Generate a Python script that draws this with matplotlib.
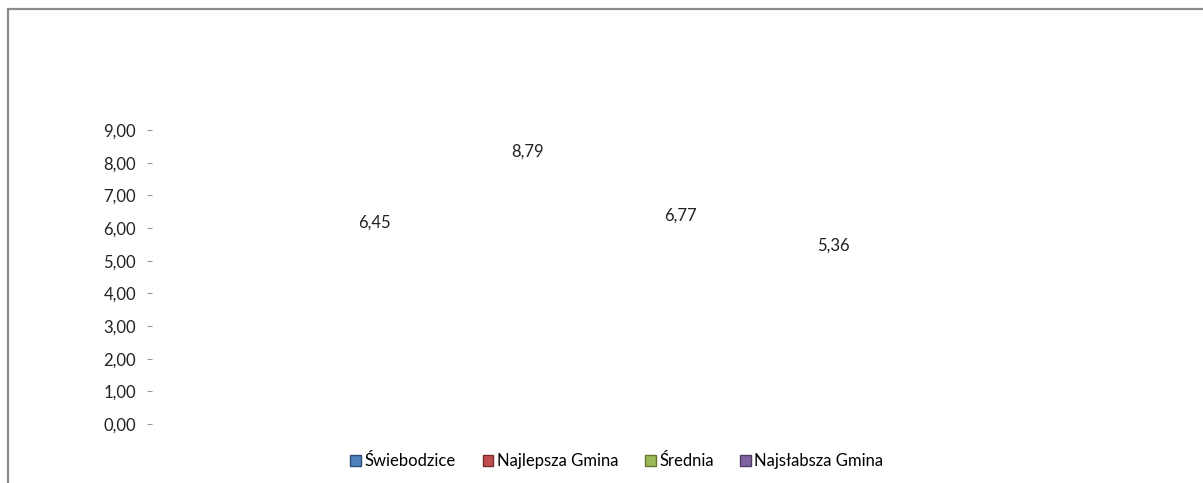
import matplotlib
matplotlib.use("Agg")
import matplotlib.pyplot as plt
from matplotlib.patches import Patch, Rectangle
from matplotlib.ticker import FuncFormatter

# data
series = ["Świebodzice", "Najlepsza Gmina", "Średnia", "Najsłabsza Gmina"]
values = [6.45, 8.79, 6.77, 5.36]
colors = ["#4F81BD", "#C0504D", "#9BBB59", "#8064A2"]
edges = ["#2c4d75", "#772c2a", "#5f7530", "#4d3b62"]
label_dy = [-7, -11, -9.5, 2]  # label offsets in points
yticks = [0, 1, 2, 3, 4, 5, 6, 7, 8, 9]

plt.rcParams['font.family'] = ['Lato', 'DejaVu Sans']
FS = 12

fig = plt.figure(figsize=(12.03, 4.83), dpi=100)
ax = fig.add_axes([0.1264, 0.1222, 0.7515, 0.6087])

# outer chart frame (only left and top visible)
fig.patches.append(Rectangle((8 / 1203, -0.05), 1.2, 1 - 9 / 483 + 0.05,
                             transform=fig.transFigure, fill=False,
                             edgecolor="#8c8c8c", lw=1.6))

x = list(range(len(values)))
ax.bar(x, values, width=0.6, color=colors, alpha=0)

for xi, v, dy in zip(x, values, label_dy):
    ax.annotate(f"{v:.2f}".replace(".", ","), (xi, v), xytext=(0, dy),
                textcoords="offset points", ha="center", va="center",
                fontsize=FS, color="#222222", annotation_clip=False)

ax.set_xlim(-1.454, 4.454)
ax.set_ylim(0, 9)
ax.set_yticks(yticks)
ax.yaxis.set_major_formatter(FuncFormatter(lambda v, p: f"{v:.2f}".replace(".", ",")))
ax.tick_params(axis="y", length=3.6, width=0.8, color="#999999", pad=8,
               labelsize=FS, labelcolor="#222222")
ax.set_xticks([])
for s in ax.spines.values():
    s.set_visible(False)
ax.patch.set_alpha(0)

handles = [Patch(facecolor=c, edgecolor=e, lw=1.0) for c, e in zip(colors, edges)]
fig.legend(handles, series, loc="center", bbox_to_anchor=(617 / 1203, 1 - 461 / 483),
           ncol=4, frameon=False, fontsize=FS, handlelength=0.65, handleheight=0.65,
           handletextpad=0.2, columnspacing=1.6)

fig.savefig("out.png", dpi=100)
